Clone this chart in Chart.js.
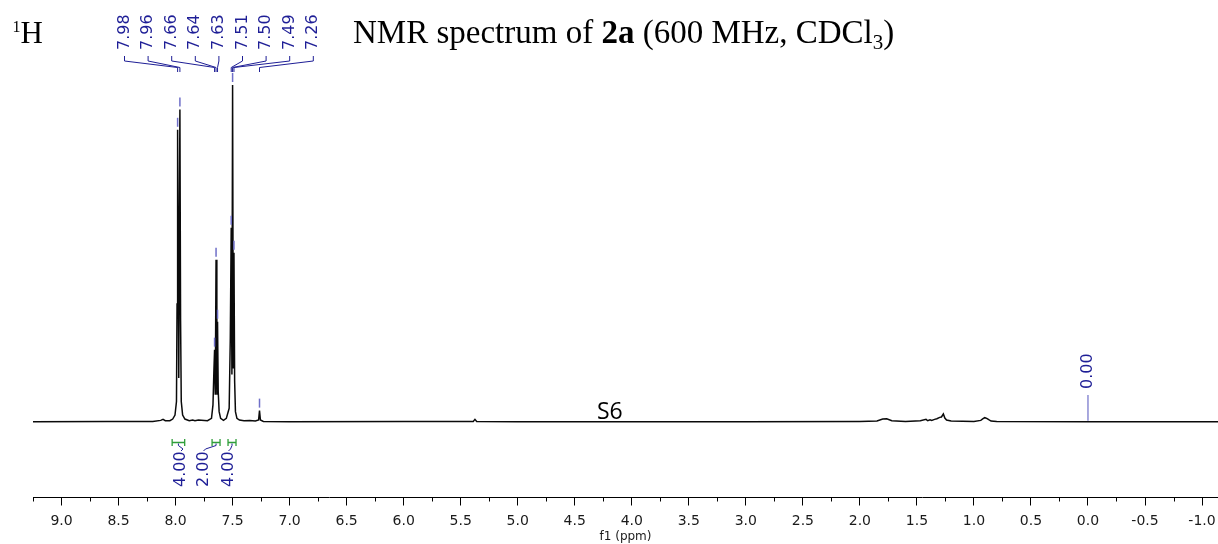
<!DOCTYPE html>
<html>
<head>
<meta charset="utf-8">
<script src="https://cdn.jsdelivr.net/npm/chart.js@4.4.1/dist/chart.umd.min.js"></script>
<style>
  html, body { margin: 0; padding: 0; background: #fff; }
  #wrap { width: 1218px; height: 544px; }
</style>
</head>
<body>
<div id="wrap"><canvas id="c" width="1218" height="544"></canvas></div>
<script>
// ---------- data ----------
// spectrum trace: chemical shift (ppm) and relative intensity (7.50 peak = 100)
const specPpm = [
  9.25, 8.60, 8.20, 8.13, 8.11, 8.09, 8.05, 8.025, 8.005, 7.992, 7.987, 7.982, 7.972, 7.962, 7.956, 7.950, 7.938, 7.918,
  7.88, 7.85, 7.83, 7.80, 7.72, 7.685, 7.672, 7.664, 7.658, 7.652, 7.645, 7.638, 7.632, 7.626, 7.618, 7.605,
  7.58, 7.555, 7.530, 7.520, 7.512, 7.506, 7.500, 7.494, 7.488, 7.482, 7.475, 7.462, 7.44, 7.40, 7.35, 7.30,
  7.272, 7.264, 7.256, 7.23, 7.00, 6.00, 5.39, 5.375, 5.36, 5.00, 3.00, 2.00, 1.85, 1.80, 1.765, 1.72, 1.60,
  1.47, 1.42, 1.405, 1.385, 1.37, 1.345, 1.325, 1.30, 1.285, 1.268, 1.255, 1.24, 1.20, 1.00,
  0.94, 0.92, 0.905, 0.888, 0.87, 0.85, 0.80, 0.00, -1.14
];
const specInt = [
  0.0, 0.1, 0.1, 0.4, 0.7, 0.3, 0.3, 0.8, 2.0, 6.0, 35.0, 86.7, 13.0, 92.7, 30.0, 6.0, 2.0, 0.8,
  0.3, 0.5, 0.3, 0.5, 0.3, 1.0, 5.0, 15.0, 21.4, 8.0, 48.1, 8.0, 29.7, 9.0, 3.0, 1.0,
  0.4, 1.0, 4.0, 25.0, 57.6, 14.0, 100.0, 16.0, 50.2, 12.0, 3.0, 1.0, 0.5, 0.3, 0.4, 0.2,
  0.5, 3.3, 0.5, 0.1, 0.0, 0.1, 0.1, 0.7, 0.1, 0.0, 0.0, 0.1, 0.2, 0.8, 0.9, 0.3, 0.1,
  0.3, 0.7, 0.3, 0.6, 0.4, 0.7, 0.9, 1.3, 1.4, 2.3, 1.1, 0.5, 0.2, 0.1,
  0.4, 0.9, 1.2, 1.0, 0.6, 0.2, 0.1, 0.0, 0.0
];

// picked peaks
const peakLabels  = ['7.98', '7.96', '7.66', '7.64', '7.63', '7.51', '7.50', '7.49', '7.26'];
const peakShifts  = [7.982, 7.962, 7.658, 7.645, 7.632, 7.512, 7.500, 7.488, 7.264];
const peakHeights = [86.7, 92.7, 21.4, 48.1, 29.7, 57.6, 100.0, 50.2, 3.3];
const refLabel = '0.00';
const refShift = 0.00;

// integrals
const intFrom   = [8.03, 7.68, 7.54];
const intTo     = [7.92, 7.61, 7.47];
const intLabels = ['4.00', '2.00', '4.00'];

// axis ticks
const xTickValues = [9.0, 8.5, 8.0, 7.5, 7.0, 6.5, 6.0, 5.5, 5.0, 4.5, 4.0, 3.5, 3.0, 2.5, 2.0, 1.5, 1.0, 0.5, 0.0, -0.5, -1.0];
const xMinorTicks = [9.25, 8.75, 8.25, 7.75, 7.25, 6.75, 6.25, 5.75, 5.25, 4.75, 4.25, 3.75, 3.25, 2.75, 2.25, 1.75, 1.25, 0.75, 0.25, -0.25, -0.75];

// ---------- drawing ----------
const NAVY = '#1e1e96';
const MARK = '#6f6fc8';
const GREEN = '#2f9e3a';

const decor = {
  id: 'decor',
  beforeDraw(chart) {
    const c = chart.ctx;
    c.save();
    c.fillStyle = '#fff';
    c.fillRect(0, 0, chart.width, chart.height);
    c.restore();
  },
  afterDraw(chart) {
    const c = chart.ctx;
    const x = chart.scales.x, y = chart.scales.y;
    c.save();

    // minor ticks
    c.strokeStyle = '#000';
    c.lineWidth = 1;
    xMinorTicks.forEach(v => {
      const px = Math.round(x.getPixelForValue(v)) + 0.5;
      c.beginPath();
      c.moveTo(px, x.top);
      c.lineTo(px, x.top + 4);
      c.stroke();
    });

    // peak labels with connectors and markers
    c.font = '16px "DejaVu Sans"';
    c.lineWidth = 1;
    peakLabels.forEach((t, i) => {
      const lx = 124.5 + i * 23.6;
      const px = x.getPixelForValue(peakShifts[i]);
      c.fillStyle = NAVY;
      c.save();
      c.translate(lx, 50);
      c.rotate(-Math.PI / 2);
      c.textAlign = 'left';
      c.textBaseline = 'middle';
      c.fillText(t, 0, 0);
      c.restore();
      c.strokeStyle = NAVY;
      c.beginPath();
      c.moveTo(lx, 56);
      c.lineTo(lx, 61);
      c.lineTo(px, 67.5);
      c.lineTo(px, 72);
      c.stroke();
      const py = y.getPixelForValue(peakHeights[i]);
      c.strokeStyle = MARK;
      c.lineWidth = 1.5;
      c.beginPath();
      c.moveTo(px, py - 3);
      c.lineTo(px, py - 12);
      c.stroke();
      c.lineWidth = 1;
    });

    // reference (TMS) label
    {
      const px = x.getPixelForValue(refShift);
      const base = y.getPixelForValue(0);
      c.fillStyle = NAVY;
      c.save();
      c.translate(px, 389);
      c.rotate(-Math.PI / 2);
      c.textAlign = 'left';
      c.textBaseline = 'middle';
      c.fillText(refLabel, 0, 0);
      c.restore();
      c.strokeStyle = MARK;
      c.lineWidth = 1.2;
      c.beginPath();
      c.moveTo(px, 395);
      c.lineTo(px, base - 1);
      c.stroke();
    }

    // integrals
    const intLabelX = [181, 203.5, 228.5];
    intFrom.forEach((f, i) => {
      const x1 = x.getPixelForValue(f), x2 = x.getPixelForValue(intTo[i]);
      const yb = 442.5;
      c.strokeStyle = GREEN;
      c.lineWidth = 1.3;
      c.beginPath();
      c.moveTo(x1, yb); c.lineTo(x2, yb);
      c.moveTo(x1, yb - 3.5); c.lineTo(x1, yb + 3.5);
      c.moveTo(x2, yb - 3.5); c.lineTo(x2, yb + 3.5);
      c.stroke();
      const mid = (x1 + x2) / 2;
      const lx = intLabelX[i];
      c.strokeStyle = NAVY;
      c.lineWidth = 1;
      c.beginPath();
      c.moveTo(mid, yb + 1);
      c.lineTo(mid, yb + 3);
      c.lineTo(lx + 2, 449);
      c.lineTo(lx, 451);
      c.stroke();
      c.fillStyle = NAVY;
      c.save();
      c.translate(lx, 487);
      c.rotate(-Math.PI / 2);
      c.textAlign = 'left';
      c.textBaseline = 'middle';
      c.fillText(intLabels[i], 0, 0);
      c.restore();
    });

    // titles
    c.fillStyle = '#000';
    c.textAlign = 'left';
    c.textBaseline = 'alphabetic';
    c.font = '16px "Liberation Serif"';
    c.fillText('1', 12.5, 32);
    c.font = '31px "Liberation Serif"';
    c.fillText('H', 20.5, 43);

    let tx = 353;
    const ty = 43;
    const seg = (txt, font, dy) => {
      c.font = font;
      c.fillText(txt, tx, ty + (dy || 0));
      tx += c.measureText(txt).width;
    };
    seg('NMR spectrum of ', '33px "Liberation Serif"');
    seg('2a', 'bold 33px "Liberation Serif"');
    seg(' (600 MHz, CDCl', '33px "Liberation Serif"');
    seg('3', '21px "Liberation Serif"', 6);
    seg(')', '33px "Liberation Serif"');

    // page number
    c.font = '23px "Open Sans"';
    c.fillText('S6', 597, 418.5);

    c.restore();
  }
};

new Chart(document.getElementById('c'), {
  type: 'line',
  data: {
    datasets: [{
      data: specPpm.map((p, i) => ({ x: p, y: specInt[i] })),
      borderColor: '#0a0a0a',
      borderWidth: 1.5,
      pointRadius: 0,
      tension: 0,
      fill: false
    }]
  },
  options: {
    responsive: false,
    animation: false,
    devicePixelRatio: 1,
    events: [],
    layout: { padding: { top: 85, left: 33, right: 0, bottom: 0 } },
    plugins: { legend: { display: false }, tooltip: { enabled: false }, title: { display: false } },
    scales: {
      x: {
        type: 'linear',
        reverse: true,
        min: -1.14,
        max: 9.25,
        afterBuildTicks: (scale) => { scale.ticks = xTickValues.map(v => ({ value: v })); },
        afterFit: (scale) => { scale.paddingLeft = 0; scale.paddingRight = 0; },
        ticks: {
          includeBounds: false,
          autoSkip: false,
          maxRotation: 0,
          padding: 7.1,
          color: '#1a1a1a',
          font: { family: '"DejaVu Sans"', size: 14 },
          callback: (v) => Number(v).toFixed(1)
        },
        grid: { display: true, drawOnChartArea: false, drawTicks: true, tickLength: 8, color: '#000', lineWidth: 1 },
        border: { display: true, color: '#000', width: 1 },
        title: {
          display: true,
          text: 'f1 (ppm)',
          color: '#1a1a1a',
          font: { family: '"DejaVu Sans"', size: 12 },
          padding: { top: -6.7, bottom: -0.2 }
        }
      },
      y: {
        display: false,
        min: -22.5,
        max: 100
      }
    }
  },
  plugins: [decor]
});
</script>
</body>
</html>
